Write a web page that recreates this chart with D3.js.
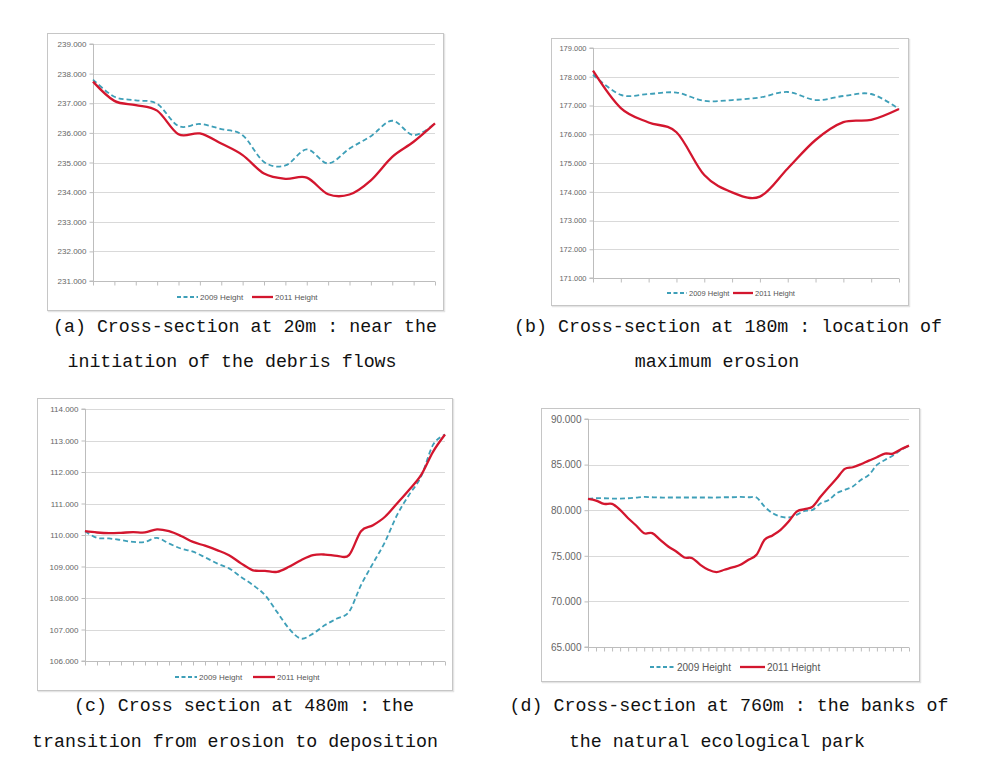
<!DOCTYPE html>
<html><head><meta charset="utf-8">
<script src="https://cdn.jsdelivr.net/npm/d3@7"></script>
<style>
body{margin:0;background:#fff;}
svg{display:block;}
</style></head>
<body>
<svg id="c" width="981" height="758"></svg>
<script>
// ---- Data ----
const seriesNames = ["2009 Height", "2011 Height"];

const aTicks = [231, 232, 233, 234, 235, 236, 237, 238, 239];
const a2009 = [237.80, 237.22, 237.10, 236.98, 236.23, 236.30, 236.13, 235.92, 235.02, 234.90, 235.44, 234.97, 235.47, 235.89, 236.41, 235.92, 236.32];
const a2011 = [237.73, 237.08, 236.94, 236.75, 235.95, 235.98, 235.64, 235.25, 234.63, 234.45, 234.49, 233.93, 233.92, 234.40, 235.19, 235.70, 236.32];

const bTicks = [171, 172, 173, 174, 175, 176, 177, 178, 179];
const b2009 = [178.07, 177.37, 177.40, 177.45, 177.16, 177.19, 177.28, 177.47, 177.19, 177.33, 177.40, 176.88];
const b2011 = [178.21, 176.91, 176.41, 176.07, 174.58, 173.98, 173.83, 174.81, 175.80, 176.42, 176.50, 176.88];

const cTicks = [106, 107, 108, 109, 110, 111, 112, 113, 114];
const c2009 = [110.12, 109.91, 109.89, 109.84, 109.78, 109.78, 109.91, 109.73, 109.57, 109.47, 109.29, 109.10, 108.94, 108.67, 108.41, 108.09, 107.56, 107.03, 106.71, 106.87, 107.14, 107.35, 107.56, 108.41, 109.10, 109.78, 110.63, 111.27, 111.85, 112.86, 113.19];
const c2011 = [110.12, 110.08, 110.06, 110.07, 110.09, 110.08, 110.18, 110.12, 109.97, 109.78, 109.66, 109.52, 109.36, 109.10, 108.88, 108.86, 108.83, 108.99, 109.20, 109.36, 109.38, 109.34, 109.36, 110.12, 110.31, 110.58, 111.00, 111.43, 111.90, 112.64, 113.19];

const dTicks = [65, 70, 75, 80, 85, 90];
const d2009 = [81.24, 81.31, 81.31, 81.28, 81.28, 81.31, 81.39, 81.46, 81.42, 81.39, 81.39, 81.39, 81.39, 81.39, 81.39, 81.39, 81.39, 81.42, 81.42, 81.46, 81.42, 81.39, 80.40, 79.67, 79.30, 79.20, 79.49, 79.93, 80.04, 80.77, 81.13, 81.86, 82.23, 82.60, 83.32, 83.87, 84.96, 85.51, 85.99, 86.61, 87.08];
const d2011 = [81.24, 81.06, 80.69, 80.69, 80.04, 79.12, 78.32, 77.48, 77.48, 76.75, 76.02, 75.47, 74.82, 74.74, 74.01, 73.47, 73.21, 73.47, 73.72, 74.01, 74.56, 75.11, 76.75, 77.23, 77.85, 78.76, 79.85, 80.11, 80.40, 81.50, 82.52, 83.50, 84.53, 84.71, 85.04, 85.44, 85.80, 86.20, 86.20, 86.68, 87.08];

const captions = [
  ["(a) Cross-section at 20m : near the", "initiation of the debris flows"],
  ["(b) Cross-section at 180m : location of", "maximum erosion"],
  ["(c) Cross section at 480m : the", "transition from erosion to deposition"],
  ["(d) Cross-section at 760m : the banks of", "the natural ecological park"]
];

// ---- Drawing ----
const svg = d3.select("#c");
const TEAL = "#3e9fb8", RED = "#d3162e";

function panel(cfg) {
  const g = svg.append("g");
  // frame
  g.append("rect").attr("x", cfg.box[0] + 1.5).attr("y", cfg.box[1] + 1.5)
    .attr("width", cfg.box[2] - cfg.box[0]).attr("height", cfg.box[3] - cfg.box[1])
    .attr("fill", "none").attr("stroke", "#e4e4e4").attr("stroke-width", 1.5);
  g.append("rect").attr("x", cfg.box[0] + 0.5).attr("y", cfg.box[1] + 0.5)
    .attr("width", cfg.box[2] - cfg.box[0]).attr("height", cfg.box[3] - cfg.box[1])
    .attr("fill", "#fff").attr("stroke", "#c6c6c6").attr("stroke-width", 1);

  const n = cfg.s1.length;
  const x = d3.scalePoint().domain(d3.range(n)).range([cfg.plot[0], cfg.plot[2]]);
  const y = d3.scaleLinear().domain(d3.extent(cfg.ticks)).range([cfg.plot[3], cfg.plot[1]]);

  // gridlines
  g.append("g").selectAll("line").data(cfg.ticks).join("line")
    .attr("x1", cfg.plot[0]).attr("x2", cfg.plot[2])
    .attr("y1", d => Math.round(y(d)) + 0.5).attr("y2", d => Math.round(y(d)) + 0.5)
    .attr("stroke", "#d9d9d9").attr("stroke-width", 1);

  // y axis
  const ya = d3.axisLeft(y).tickValues(cfg.ticks).tickFormat(d3.format(".3f")).tickSize(4).tickPadding(3);
  const yg = g.append("g").attr("transform", `translate(${Math.round(cfg.plot[0]) + 0.5},0)`).call(ya);
  yg.select(".domain").attr("stroke", "#bdbdbd").attr("d", `M-4,${y(cfg.ticks[0])}H0V${y(cfg.ticks[cfg.ticks.length-1])}H-4`);
  yg.selectAll(".tick line").attr("stroke", "#bdbdbd");
  yg.selectAll(".tick text").attr("fill", "#666").style("font-family", "Liberation Sans, Arial, sans-serif").style("font-size", cfg.fs + "px");

  // x axis (category ticks, no labels)
  const xa = d3.axisBottom(x).tickFormat("").tickSize(4);
  const xg = g.append("g").attr("transform", `translate(0,${Math.round(cfg.plot[3]) + 0.5})`).call(xa);
  xg.select(".domain").attr("stroke", "#bdbdbd").attr("d", `M${cfg.plot[0]},0H${cfg.plot[2]}`);
  xg.selectAll(".tick line").attr("stroke", "#bdbdbd");

  const line = d3.line().x((d, i) => x(i)).y(d => y(d)).curve(d3.curveCardinal.tension(0));
  g.append("path").datum(cfg.s1).attr("d", line).attr("fill", "none")
    .attr("stroke", TEAL).attr("stroke-width", 1.8).attr("stroke-dasharray", "5,3");
  g.append("path").datum(cfg.s2).attr("d", line).attr("fill", "none")
    .attr("stroke", RED).attr("stroke-width", 2.3);

  // legend
  const L = cfg.legend; // [x0, y]
  const lg = g.append("g").attr("transform", `translate(${L[0]},${L[1]})`);
  const sw = cfg.lw, gap = cfg.lgap;
  lg.append("line").attr("x1", 0).attr("x2", sw).attr("y1", 0).attr("y2", 0)
    .attr("stroke", TEAL).attr("stroke-width", 1.8).attr("stroke-dasharray", "4,2.5");
  lg.append("text").attr("x", sw + 2).attr("y", 0).attr("dy", "0.35em").text(seriesNames[0])
    .attr("fill", "#555").style("font-family", "Liberation Sans, Arial, sans-serif").style("font-size", cfg.lfs + "px");
  lg.append("line").attr("x1", gap).attr("x2", gap + sw).attr("y1", 0).attr("y2", 0)
    .attr("stroke", RED).attr("stroke-width", 2.3);
  lg.append("text").attr("x", gap + sw + 2).attr("y", 0).attr("dy", "0.35em").text(seriesNames[1])
    .attr("fill", "#555").style("font-family", "Liberation Sans, Arial, sans-serif").style("font-size", cfg.lfs + "px");

  // caption
  const cap = captions[cfg.ci];
  cfg.cap.forEach((p, k) => {
    svg.append("text").attr("x", p[0]).attr("y", p[1]).attr("text-anchor", "middle")
      .style("font-family", "Liberation Mono, DejaVu Sans Mono, monospace").style("font-size", "18.3px")
      .attr("fill", "#111").text(cap[k]);
  });
}

panel({ box: [47, 33, 443, 310], plot: [93, 44, 435, 281], ticks: aTicks, s1: a2009, s2: a2011,
  fs: 8, legend: [177, 297], lw: 21, lgap: 75, lfs: 8, ci: 0, cap: [[245, 332], [232, 367]] });
panel({ box: [551, 38, 908, 305], plot: [593, 48, 899, 278], ticks: bTicks, s1: b2009, s2: b2011,
  fs: 7.5, legend: [667, 293], lw: 20, lgap: 66, lfs: 7.5, ci: 1, cap: [[728, 332], [717, 367]] });
panel({ box: [37, 398, 452, 690], plot: [85, 409, 445, 661], ticks: cTicks, s1: c2009, s2: c2011,
  fs: 8, legend: [175, 677], lw: 22, lgap: 78, lfs: 8, ci: 2, cap: [[244, 711], [235, 747]] });
panel({ box: [541, 408, 919, 681], plot: [588, 419, 909, 647], ticks: dTicks, s1: d2009, s2: d2011,
  fs: 10, legend: [650, 667], lw: 25, lgap: 90, lfs: 10, ci: 3, cap: [[729, 711], [717, 747]] });
</script>
</body></html>
